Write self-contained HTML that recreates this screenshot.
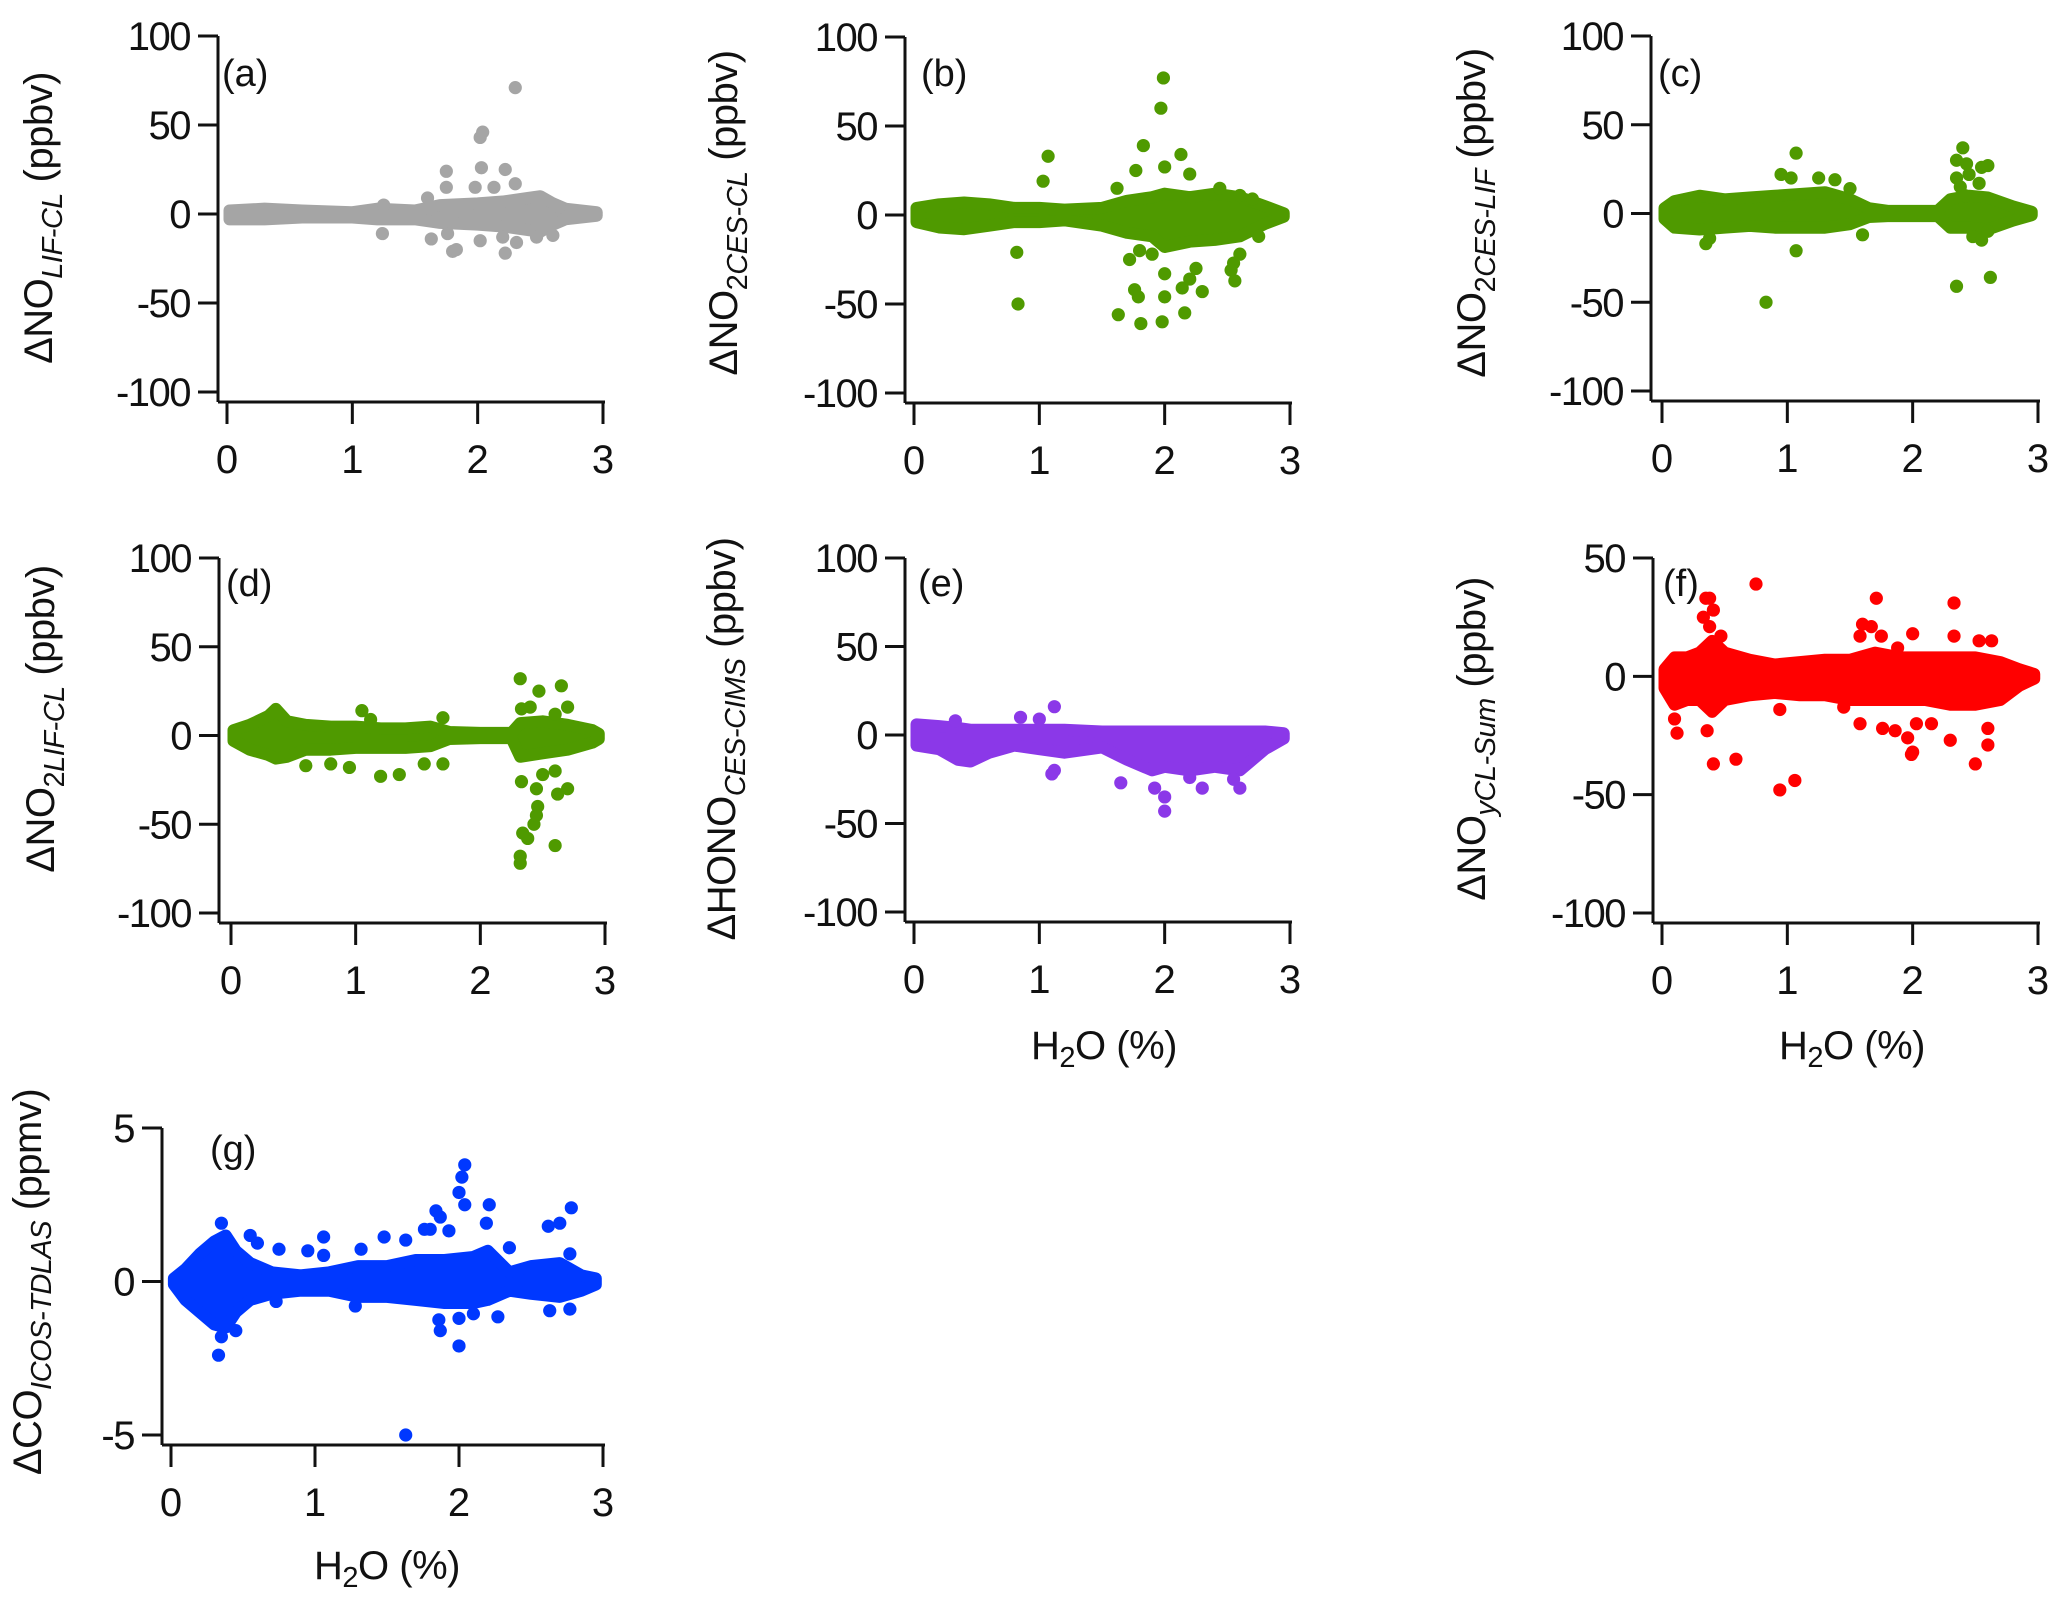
<!DOCTYPE html>
<html><head><meta charset="utf-8">
<style>
html,body{margin:0;padding:0;background:#fff;}
svg{display:block;font-family:"Liberation Sans",sans-serif;}
</style></head>
<body>
<svg id="fig" width="2067" height="1602" viewBox="0 0 2067 1602" xmlns="http://www.w3.org/2000/svg">
<rect width="2067" height="1602" fill="#fff"/>
<g font-size="40" fill="#111" letter-spacing="-0.5">
<text transform="translate(52,218) rotate(-90)" text-anchor="middle">ΔNO<tspan font-size="29" font-style="italic" dy="10">LIF-CL</tspan><tspan dy="-10"> (ppbv)</tspan></text>
<text transform="translate(737,213) rotate(-90)" text-anchor="middle">ΔNO<tspan font-size="29" dy="10">2</tspan><tspan font-size="29" font-style="italic">CES-CL</tspan><tspan dy="-10"> (ppbv)</tspan></text>
<text transform="translate(1485,213) rotate(-90)" text-anchor="middle">ΔNO<tspan font-size="29" dy="10">2</tspan><tspan font-size="29" font-style="italic">CES-LIF</tspan><tspan dy="-10"> (ppbv)</tspan></text>
<text transform="translate(54,719) rotate(-90)" text-anchor="middle">ΔNO<tspan font-size="29" dy="10">2</tspan><tspan font-size="29" font-style="italic">LIF-CL</tspan><tspan dy="-10"> (ppbv)</tspan></text>
<text transform="translate(735,739) rotate(-90)" text-anchor="middle">ΔHONO<tspan font-size="29" font-style="italic" dy="10">CES-CIMS</tspan><tspan dy="-10"> (ppbv)</tspan></text>
<text transform="translate(1485,739) rotate(-90)" text-anchor="middle">ΔNO<tspan font-size="29" font-style="italic" dy="10">yCL-Sum</tspan><tspan dy="-10"> (ppbv)</tspan></text>
<text transform="translate(41,1282) rotate(-90)" text-anchor="middle">ΔCO<tspan font-size="29" font-style="italic" dy="10">ICOS-TDLAS</tspan><tspan dy="-10"> (ppmv)</tspan></text>
<text x="1104" y="1059" text-anchor="middle">H<tspan font-size="29" dy="8">2</tspan><tspan dy="-8">O (%)</tspan></text>
<text x="1852" y="1059" text-anchor="middle">H<tspan font-size="29" dy="8">2</tspan><tspan dy="-8">O (%)</tspan></text>
<text x="387" y="1579" text-anchor="middle">H<tspan font-size="29" dy="8">2</tspan><tspan dy="-8">O (%)</tspan></text>
</g>
</svg>
<script>
// ---- data (a) ----
const aBandX=[0.02,0.3,0.6,1.0,1.2,1.5,1.7,2.0,2.2,2.4,2.5,2.6,2.7,2.95];
const aBandHi=[2,3,2,1,3,2,5,6,7,9,10,6,3,1];
const aBandLo=[-3,-3,-2,-2,-3,-3,-5,-6,-7,-9,-10,-6,-3,-1];
const aOutX=[2.3,2.02,2.04,2.03,2.22,1.75,1.75,1.98,2.13,2.3,1.6,1.24,1.63,1.76,1.8,1.83,2.02,2.2,2.22,2.31,2.47,2.6,2.65,1.25];
const aOutY=[71,43,46,26,25,24,15,15,15,17,9,-11,-14,-11,-21,-20,-15,-13,-22,-16,-13,-12,4,5];
// ---- data (b) ----
const bBandX=[0.02,0.2,0.4,0.6,0.8,1.0,1.2,1.5,1.7,1.9,2.0,2.2,2.4,2.6,2.8,2.95];
const bBandHi=[4,6,7,6,4,4,3,4,8,10,12,10,12,10,5,1];
const bBandLo=[-4,-7,-8,-6,-4,-4,-3,-6,-10,-12,-18,-15,-14,-12,-5,-1];
const bOutX=[1.99,1.97,1.83,2.13,1.07,2.0,1.03,2.2,1.77,1.62,2.44,2.6,2.7,0.82,0.83,1.63,1.81,1.98,2.16,1.79,1.76,2.0,2.14,2.3,2.2,2.25,2.56,2.0,1.9,1.72,1.8,2.6,2.75,2.55,2.53];
const bOutY=[77,60,39,34,33,27,19,23,25,15,15,11,9,-21,-50,-56,-61,-60,-55,-46,-42,-46,-41,-43,-36,-30,-37,-33,-22,-25,-20,-22,-12,-27,-31];
// ---- data (c) ----
const cBandX=[0.02,0.1,0.3,0.5,0.7,0.9,1.1,1.3,1.5,1.65,1.8,2.2,2.3,2.45,2.6,2.8,2.95];
const cBandHi=[3,7,10,8,9,10,11,12,8,3,1.5,1.5,8,10,9,4,1];
const cBandLo=[-3,-8,-9,-8,-7,-8,-8,-8,-6,-2,-1.5,-1.5,-8,-8,-9,-4,-1];
const cOutX=[1.07,0.95,1.03,1.25,1.38,1.5,0.35,0.38,1.07,0.83,1.6,2.35,2.4,2.43,2.35,2.38,2.55,2.6,2.53,2.35,2.62,2.48,2.55,2.6,2.45,2.42];
const cOutY=[34,22,20,20,19,14,-17,-14,-21,-50,-12,30,37,28,20,15,26,27,17,-41,-36,-13,-15,-10,22,10];
// ---- data (d) ----
const dBandX=[0.02,0.15,0.3,0.36,0.45,0.6,0.8,1.0,1.2,1.4,1.6,1.75,2.0,2.25,2.32,2.5,2.7,2.9,2.95];
const dBandHi=[3,6,11,15,8,6,5,5,4,4,5,2,1.5,1.5,7,8,6,3,1];
const dBandLo=[-3,-8,-11,-13,-12,-8,-8,-7,-7,-7,-6,-2,-1.5,-1.5,-12,-10,-8,-4,-2];
const dOutX=[2.32,2.47,2.65,2.33,2.4,2.6,2.7,1.05,1.12,1.7,0.6,0.8,0.95,1.2,1.35,1.55,1.7,2.32,2.32,2.34,2.38,2.43,2.45,2.46,2.6,2.7,2.62,2.33,2.45,2.5,2.6];
const dOutY=[32,25,28,15,16,12,16,14,9,10,-17,-16,-18,-23,-22,-16,-16,-68,-72,-55,-58,-50,-45,-40,-62,-30,-33,-26,-30,-22,-20];
// ---- data (e) ----
const eBandX=[0.02,0.2,0.35,0.45,0.6,0.8,1.0,1.2,1.5,1.7,1.9,2.0,2.2,2.4,2.6,2.8,2.95];
const eBandHi=[6,5,4,3,3,3,3,3,2,2,2,2,2,2,2,2,1];
const eBandLo=[-6,-8,-14,-15,-10,-6,-8,-10,-7,-14,-20,-18,-20,-18,-20,-8,-2];
const eOutX=[0.85,1.0,1.12,0.33,1.1,1.12,1.65,2.0,2.0,2.3,2.6,2.55,1.92,2.2];
const eOutY=[10,9,16,8,-22,-20,-27,-43,-35,-30,-30,-25,-30,-24];
// ---- data (f) ----
const fBandX=[0.02,0.1,0.2,0.3,0.4,0.5,0.7,0.9,1.1,1.3,1.5,1.7,1.9,2.1,2.3,2.5,2.7,2.85,2.97];
const fBandHi=[3,8,8,10,15,10,7,5,6,7,7,10,8,8,8,8,6,3,1];
const fBandLo=[-5,-12,-10,-10,-15,-10,-8,-7,-8,-8,-10,-10,-10,-10,-12,-12,-10,-4,-1];
const fOutX=[0.75,0.35,0.38,0.41,0.33,0.38,0.47,1.71,2.33,1.6,1.67,1.58,1.75,1.88,2.0,2.33,2.53,2.63,0.12,0.1,0.36,0.41,0.59,0.94,1.06,0.94,1.58,1.76,1.86,1.96,1.99,2.0,2.03,2.15,2.3,2.5,2.6,2.6,1.45];
const fOutY=[39,33,33,28,25,21,17,33,31,22,21,17,17,12,18,17,15,15,-24,-18,-23,-37,-35,-48,-44,-14,-20,-22,-23,-26,-33,-32,-20,-20,-27,-37,-29,-22,-13];
// ---- data (g) ----
const gBandX=[0.02,0.1,0.2,0.3,0.38,0.45,0.55,0.7,0.9,1.1,1.3,1.5,1.7,1.9,2.1,2.2,2.35,2.5,2.7,2.85,2.95];
const gBandHi=[0.1,0.4,0.9,1.3,1.5,1.0,0.6,0.3,0.2,0.3,0.5,0.5,0.7,0.7,0.8,1.0,0.3,0.5,0.6,0.2,0.1];
const gBandLo=[-0.1,-0.6,-1.0,-1.4,-1.5,-1.0,-0.6,-0.4,-0.3,-0.3,-0.5,-0.5,-0.6,-0.7,-0.7,-0.6,-0.3,-0.4,-0.5,-0.3,-0.1];
const gOutX=[0.35,0.55,0.6,0.75,0.95,1.06,1.06,1.32,1.48,1.63,1.76,1.84,1.87,1.8,1.93,2.0,2.02,2.04,2.04,2.21,2.19,2.35,2.7,2.78,2.62,2.77,0.33,0.35,0.45,0.73,1.28,1.63,1.86,1.87,2.0,2.0,2.1,2.27,2.63,2.77];
const gOutY=[1.9,1.5,1.25,1.05,1.0,1.45,0.85,1.05,1.45,1.35,1.7,2.3,2.1,1.7,1.65,2.9,3.4,3.8,2.5,2.5,1.9,1.1,1.9,2.4,1.8,0.9,-2.4,-1.8,-1.6,-0.65,-0.8,-5.0,-1.25,-1.6,-2.1,-1.2,-1.05,-1.15,-0.95,-0.9];
const xTicks=[0,1,2,3];
const yTicks100=[100,50,0,-50,-100];
const yTicksF=[50,0,-50,-100];
const yTicksG=[5,0,-5];

const NS='http://www.w3.org/2000/svg';
const svg=document.getElementById('fig');
function mk(tag,attrs,parent){const e=document.createElementNS(NS,tag);for(const k in attrs)e.setAttribute(k,attrs[k]);(parent||svg).appendChild(e);return e;}

function panel(id,geo,yTicks,color,bx,bhi,blo,ox,oy,label,lx,ly){
  const g=mk('g',{});
  
  
  const xs=v=>geo.x0+(v-0)*(geo.x3-geo.x0)/3;
  const ymax=yTicks[0],ymin=yTicks[yTicks.length-1];
  const ys=v=>geo.yTop+(ymax-v)*(geo.yBot-geo.yTop)/(ymax-ymin);
  const axisY=geo.yBot+10;
  let pts=[];
  for(let i=0;i<bx.length;i++)pts.push(xs(bx[i])+','+ys(bhi[i]));
  for(let i=bx.length-1;i>=0;i--)pts.push(xs(bx[i])+','+ys(blo[i]));
  const band=mk('polygon',{points:pts.join(' '),fill:color,stroke:color,'stroke-width':12,'stroke-linejoin':'round'},g);
  
  
  for(let i=0;i<ox.length;i++){
    const c=mk('circle',{cx:xs(ox[i]),cy:ys(oy[i]),r:6.6,fill:color},g);
    
    
  }
  const ya=mk('line',{x1:geo.ax,y1:geo.yTop,x2:geo.ax,y2:axisY,stroke:'#111','stroke-width':3},g);
  
  
  const xa=mk('line',{x1:geo.ax,y1:axisY,x2:geo.x3+2,y2:axisY,stroke:'#111','stroke-width':3},g);
  
  
  yTicks.forEach(t=>{
    mk('line',{x1:geo.ax-20,y1:ys(t),x2:geo.ax,y2:ys(t),stroke:'#111','stroke-width':3},g);
    const tx=mk('text',{x:geo.ax-28,y:ys(t)+14,'text-anchor':'end','font-size':40,'letter-spacing':-1.5,fill:'#111'},g);
    tx.textContent=String(t);
    
    
  });
  xTicks.forEach(t=>{
    mk('line',{x1:xs(t),y1:axisY,x2:xs(t),y2:axisY+22,stroke:'#111','stroke-width':3},g);
    const tx=mk('text',{x:xs(t),y:axisY+71,'text-anchor':'middle','font-size':40,fill:'#111'},g);
    tx.textContent=String(t);
    
    
  });
  const lb=mk('text',{x:lx,y:ly,'font-size':38,fill:'#111'},g);
  lb.textContent=label;
  
  
}
panel('a',{ax:218,x0:227,x3:603,yTop:36,yBot:392},yTicks100,'#a5a5a5',aBandX,aBandHi,aBandLo,aOutX,aOutY,'(a)',222,86);
panel('b',{ax:905,x0:914,x3:1290,yTop:37,yBot:393},yTicks100,'#4f9a00',bBandX,bBandHi,bBandLo,bOutX,bOutY,'(b)',921,86);
panel('c',{ax:1651,x0:1662,x3:2038,yTop:36,yBot:391},yTicks100,'#4f9a00',cBandX,cBandHi,cBandLo,cOutX,cOutY,'(c)',1658,86);
panel('d',{ax:219,x0:231,x3:605,yTop:558,yBot:913},yTicks100,'#4f9a00',dBandX,dBandHi,dBandLo,dOutX,dOutY,'(d)',226,596);
panel('e',{ax:905,x0:914,x3:1290,yTop:558,yBot:912},yTicks100,'#8b38e8',eBandX,eBandHi,eBandLo,eOutX,eOutY,'(e)',918,596);
panel('f',{ax:1653,x0:1662,x3:2038,yTop:558,yBot:913},yTicksF,'#ff0000',fBandX,fBandHi,fBandLo,fOutX,fOutY,'(f)',1663,596);
panel('g',{ax:162,x0:171,x3:603,yTop:1128,yBot:1435},yTicksG,'#0038ff',gBandX,gBandHi,gBandLo,gOutX,gOutY,'(g)',210,1162);
</script>
</body></html>
